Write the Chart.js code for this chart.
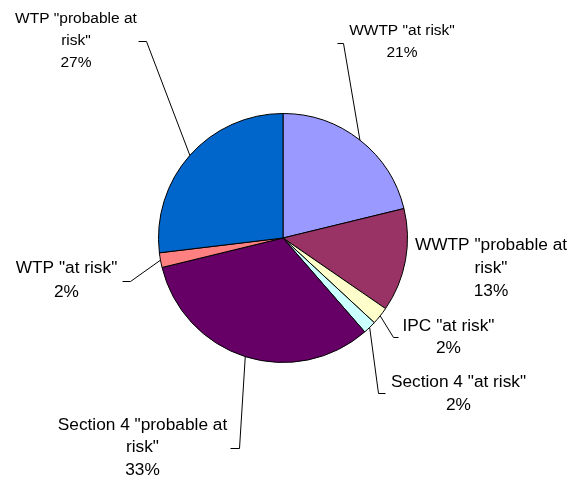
<!DOCTYPE html>
<html>
<head>
<meta charset="utf-8">
<script src="https://cdn.jsdelivr.net/npm/chart.js@4/dist/chart.umd.min.js"></script>
<style>
  html, body { margin: 0; padding: 0; background: #fff; }
  #chart { display: block; }
</style>
</head>
<body>
<canvas id="chart" width="581" height="479"></canvas>
<script>
// ---- DATA ----
const categories = [
  'WWTP "at risk"',
  'WWTP "probable at risk"',
  'IPC "at risk"',
  'Section 4 "at risk"',
  'Section 4 "probable at risk"',
  'WTP "at risk"',
  'WTP "probable at risk"',
];
const shares = [21.2, 13.4, 2.3, 1.7, 32.6, 1.9, 26.9];
const sliceColors = ['#9999FF', '#993366', '#FFFFCC', '#CCFFFF', '#660066', '#FF8080', '#0066CC'];

// ---- LABEL LAYOUT (text centre, font size, line height, wrap width, leader bend) ----
const labelLayout = [
  { x: 402,   y: 31,  size: 15.5, lh: 22,   wrap: 200, bend: [343, 43],  tip: [337, 43] },
  { x: 491,   y: 245, size: 17.3, lh: 23,   wrap: 170, bend: null,       tip: null },
  { x: 448.5, y: 326, size: 17.3, lh: 22.5, wrap: 200, bend: [393, 337], tip: [398, 337] },
  { x: 458.5, y: 382, size: 17.3, lh: 23,   wrap: 200, bend: [378, 393], tip: [385, 393] },
  { x: 142.5, y: 425, size: 17.3, lh: 22.5, wrap: 190, bend: [239, 448], tip: [230, 448] },
  { x: 66.5,  y: 268, size: 17.3, lh: 24,   wrap: 200, bend: [130, 281], tip: [122, 281] },
  { x: 76,    y: 19,  size: 15.5, lh: 22,   wrap: 130, bend: [146, 41],  tip: [138, 41] },
];

function wrapText(ctx, text, maxW) {
  const words = text.split(' ');
  const lines = [];
  let cur = '';
  words.forEach(w => {
    const test = cur ? cur + ' ' + w : w;
    if (cur && ctx.measureText(test).width > maxW) { lines.push(cur); cur = w; }
    else cur = test;
  });
  if (cur) lines.push(cur);
  return lines;
}

// ---- LABELS WITH LEADER LINES ----
const pieLabels = {
  id: 'pieLabels',
  afterDraw(chart) {
    const ctx = chart.ctx;
    const meta = chart.getDatasetMeta(0);
    ctx.save();
    ctx.beginPath();
    ctx.rect(0, 0, 567, chart.height);
    ctx.clip();
    ctx.fillStyle = '#000';
    ctx.strokeStyle = '#000';
    ctx.lineWidth = 1;
    ctx.textAlign = 'center';
    ctx.textBaseline = 'middle';

    meta.data.forEach((arc, i) => {
      const p = arc.getProps(['x', 'y', 'startAngle', 'endAngle', 'outerRadius'], true);
      const lay = labelLayout[i];
      const mid = (p.startAngle + p.endAngle) / 2;
      const ex = p.x + Math.cos(mid) * p.outerRadius;
      const ey = p.y + Math.sin(mid) * p.outerRadius;

      if (lay.bend) {
        ctx.beginPath();
        ctx.moveTo(ex, ey);
        ctx.lineTo(lay.bend[0] + 0.5, lay.bend[1] + 0.5);
        ctx.lineTo(lay.tip[0] + 0.5, lay.tip[1] + 0.5);
        ctx.stroke();
      }

      ctx.font = lay.size + 'px "Liberation Sans", Arial, sans-serif';
      const lines = wrapText(ctx, categories[i], lay.wrap);
      lines.push(Math.round(shares[i]) + '%');
      lines.forEach((ln, k) => ctx.fillText(ln, lay.x, lay.y + k * lay.lh));
    });
    ctx.restore();
  },
};

new Chart(document.getElementById('chart').getContext('2d'), {
  type: 'pie',
  data: {
    labels: categories,
    datasets: [{
      data: shares,
      backgroundColor: sliceColors,
      borderColor: '#000',
      borderWidth: 1,
    }],
  },
  options: {
    responsive: false,
    animation: false,
    layout: { padding: { left: 158, right: 173, top: 113, bottom: 116 } },
    plugins: {
      legend: { display: false },
      tooltip: { enabled: false },
    },
  },
  plugins: [pieLabels],
});
</script>
</body>
</html>
